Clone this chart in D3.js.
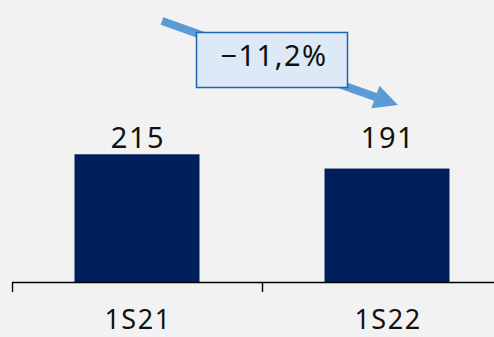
<!DOCTYPE html>
<html>
<head>
<meta charset="utf-8">
<script src="https://cdn.jsdelivr.net/npm/d3@7/dist/d3.min.js"></script>
<style>
  html, body { margin: 0; padding: 0; background: #f2f2f2; }
  svg { display: block; }
  text { font-family: "Noto Sans", "Open Sans", sans-serif; fill: #111; letter-spacing: 1.5px; }
</style>
</head>
<body>
<svg id="chart" width="494" height="337"></svg>
<script>
// Half-year totals
const categories = ["1S21", "1S22"];
const values = [215, 191];
const changeLabel = "\u221211,2%";

const W = 494, H = 337;
const svg = d3.select("#chart");

svg.append("rect").attr("width", W).attr("height", H).attr("fill", "#f2f2f2");

const baseY = 282;

const x = d3.scaleBand()
  .domain(categories)
  .range([12, 512])
  .paddingInner(0.5)
  .paddingOuter(0.25);

const y = d3.scaleLinear()
  .domain([0, 250])
  .range([baseY, baseY - 250 * 0.594]);

// Bars
svg.selectAll("rect.bar")
  .data(values)
  .join("rect")
  .attr("class", "bar")
  .attr("x", (d, i) => x(categories[i]))
  .attr("width", x.bandwidth())
  .attr("y", d => y(d))
  .attr("height", d => baseY - y(d))
  .attr("fill", "#00205b");

// Category axis: baseline with ticks at band boundaries
const bandEdges = [12, 262, 512];
svg.append("line")
  .attr("x1", 12).attr("x2", W)
  .attr("y1", baseY + 0.5).attr("y2", baseY + 0.5)
  .attr("stroke", "#000").attr("stroke-width", 1.4);
svg.selectAll("line.tick")
  .data(bandEdges)
  .join("line")
  .attr("class", "tick")
  .attr("x1", d => d + 0.5).attr("x2", d => d + 0.5)
  .attr("y1", baseY).attr("y2", baseY + 10)
  .attr("stroke", "#000").attr("stroke-width", 1.4);

svg.selectAll("text.cat")
  .data(categories)
  .join("text")
  .attr("class", "cat")
  .attr("x", d => x(d) + x.bandwidth() / 2 + 1)
  .attr("y", 329)
  .attr("text-anchor", "middle")
  .attr("font-size", 27)
  .text(d => d);

// Value labels
svg.selectAll("text.val")
  .data(values)
  .join("text")
  .attr("class", "val")
  .attr("x", (d, i) => x(categories[i]) + x.bandwidth() / 2 + 1)
  .attr("y", 148)
  .attr("text-anchor", "middle")
  .attr("font-size", 29)
  .text(d => d);

// Change arrow
const arrowColor = "#5b9bd5";
const p0 = [162, 21], p1 = [398, 105];
const ang = Math.atan2(p1[1] - p0[1], p1[0] - p0[0]);
const headLen = 24, headHalf = 12;
const bx = p1[0] - headLen * Math.cos(ang), by = p1[1] - headLen * Math.sin(ang);
svg.append("line")
  .attr("x1", p0[0]).attr("y1", p0[1])
  .attr("x2", bx + 2 * Math.cos(ang)).attr("y2", by + 2 * Math.sin(ang))
  .attr("stroke", arrowColor).attr("stroke-width", 8);
svg.append("path")
  .attr("d", d3.line()([
    p1,
    [bx + headHalf * Math.sin(ang), by - headHalf * Math.cos(ang)],
    [bx - headHalf * Math.sin(ang), by + headHalf * Math.cos(ang)]
  ]) + "Z")
  .attr("fill", arrowColor);

// Change box
svg.append("rect")
  .attr("x", 196.5).attr("y", 32.5)
  .attr("width", 151).attr("height", 55)
  .attr("fill", "#dde9f6")
  .attr("stroke", "#1f64b0")
  .attr("stroke-width", 1.5);
svg.append("text")
  .attr("x", 274).attr("y", 66)
  .attr("text-anchor", "middle")
  .attr("font-size", 29)
  .text(changeLabel);
</script>
</body>
</html>
